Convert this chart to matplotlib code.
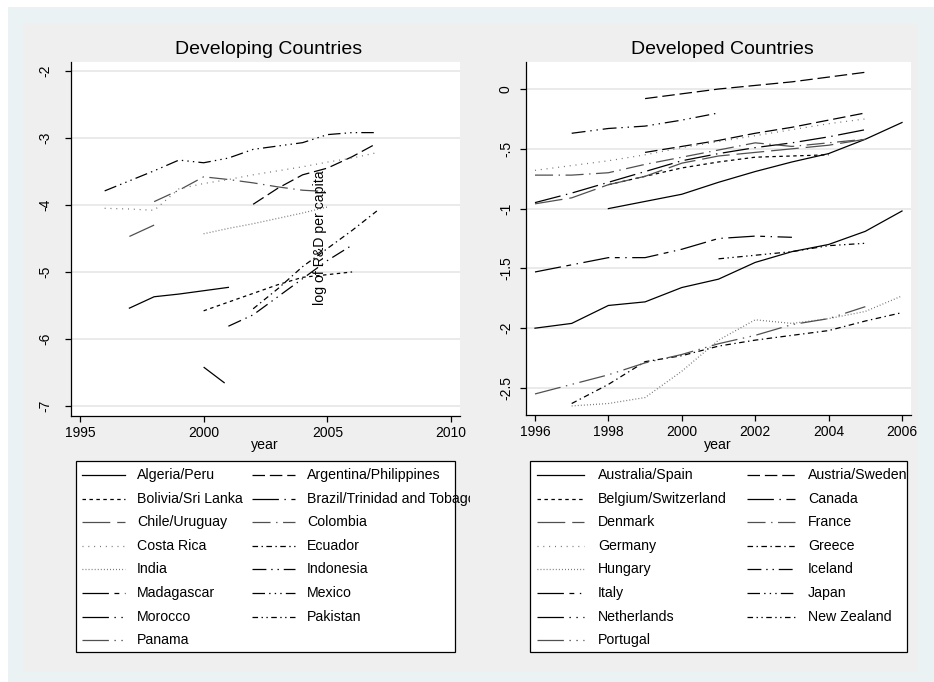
import numpy as np
import matplotlib
matplotlib.use('Agg')
import matplotlib.pyplot as plt
from matplotlib.patches import Rectangle

plt.rcParams['font.family'] = ['Liberation Sans', 'DejaVu Sans']
plt.rcParams['axes.unicode_minus'] = False
plt.rcParams['lines.scale_dashes'] = False

W, H = 934, 682

# log of R&D per capita, developing countries: (first year, yearly values)
algeria = (1997, [-5.54, -5.37, -5.33, -5.28, -5.23])
argentina = (2002, [-3.99, -3.75, -3.55, -3.45, -3.28, -3.08])
bolivia = (2000, [-5.58, -5.45, -5.32, -5.19, -5.08, -5.04, -5.00])
brazil = (None, [])
chile = (1997, [-4.47, -4.30])
colombia = (1998, [-3.95, -3.78, -3.58, -3.62, -3.67, -3.73, -3.78, -3.80])
costa_rica = (1996, [-4.05, -4.06, -4.08, -3.76, -3.68, -3.62, -3.55, -3.49, -3.43, -3.36, -3.30, -3.22])
ecuador = (2002, [-5.55, -5.25, -4.92, -4.65, -4.38, -4.09])
india = (2000, [-4.43, -4.35, -4.28, -4.20, -4.12, -4.03])
indonesia = (2001, [-5.81, -5.64, -5.37, -5.10, -4.83, -4.60])
madagascar = (2000, [-6.42, -6.70])
mexico = (1996, [-3.79, -3.64, -3.49, -3.33, -3.37, -3.30, -3.17, -3.12, -3.07, -2.95, -2.92, -2.92])
morocco = (None, [])
pakistan = (None, [])
panama = (None, [])

dev_labels = ['Algeria/Peru', 'Argentina/Philippines', 'Bolivia/Sri Lanka',
              'Brazil/Trinidad and Tobago', 'Chile/Uruguay', 'Colombia',
              'Costa Rica', 'Ecuador', 'India', 'Indonesia', 'Madagascar',
              'Mexico', 'Morocco', 'Pakistan', 'Panama']
dev_series = [algeria, argentina, bolivia, brazil, chile, colombia, costa_rica,
              ecuador, india, indonesia, madagascar, mexico, morocco, pakistan, panama]

# developed countries
australia = (1998, [-1.00, -0.94, -0.88, -0.78, -0.69, -0.61, -0.54, -0.42, -0.28])
spain = (1996, [-2.00, -1.96, -1.81, -1.78, -1.66, -1.59, -1.45, -1.36, -1.30, -1.19, -1.02])
sweden = (1999, [-0.08, -0.04, 0.00, 0.03, 0.06, 0.10, 0.14])
austria = (1999, [-0.53, -0.48, -0.43, -0.37, -0.32, -0.26, -0.20])
belgium = (1998, [-0.80, -0.73, -0.66, -0.61, -0.57, -0.56, -0.55])
canada = (1996, [-0.95, -0.87, -0.78, -0.69, -0.60, -0.54, -0.49, -0.45, -0.40, -0.34])
denmark = (1996, [-0.96, -0.91, -0.80, -0.73, -0.62, -0.56, -0.53, -0.50, -0.47, -0.42])
france = (1996, [-0.72, -0.72, -0.70, -0.63, -0.57, -0.51, -0.45, -0.48, -0.45, -0.42])
germany = (1996, [-0.68, -0.64, -0.60, -0.55, -0.49, -0.44, -0.39, -0.34, -0.29, -0.25])
greece = (1997, [-2.63, -2.47, -2.28, -2.23, -2.15, -2.10, -2.06, -2.02, -1.94, -1.87])
hungary = (1997, [-2.65, -2.63, -2.58, -2.36, -2.10, -1.93, -1.96, -1.92, -1.86, -1.73])
iceland = (1997, [-0.37, -0.33, -0.31, -0.26, -0.20])
italy = (1996, [-1.53, -1.47, -1.41, -1.41, -1.34, -1.25, -1.23, -1.24])
japan = (None, [])
netherlands = (None, [])
new_zealand = (2001, [-1.42, -1.39, -1.36, -1.31, -1.29])
portugal = (1996, [-2.55, -2.47, -2.39, -2.29, -2.22, -2.13, -2.06, -1.97, -1.92, -1.82])

dvd_labels = ['Australia/Spain', 'Austria/Sweden', 'Belgium/Switzerland', 'Canada',
              'Denmark', 'France', 'Germany', 'Greece', 'Hungary', 'Iceland',
              'Italy', 'Japan', 'Netherlands', 'New Zealand', 'Portugal']
dvd_series = [[australia, spain], [austria, sweden], [belgium], [canada], [denmark],
              [france], [germany], [greece], [hungary], [iceland], [italy], [japan],
              [netherlands], [new_zealand], [portugal]]

dev_yticks = [-2, -3, -4, -5, -6, -7]
dev_xticks = [1995, 2000, 2005, 2010]
dvd_yticks = [0, -0.5, -1, -1.5, -2, -2.5]
dvd_ylabels = ['0', '-.5', '-1', '-1.5', '-2', '-2.5']
dvd_xticks = [1996, 1998, 2000, 2002, 2004, 2006]

# line patterns (in points), one per plot style
patterns = [
    '-',
    (0, (9, 3.5)),
    (0, (2.5, 2.5)),
    (0, (19, 4, 1, 4)),
    (0, (20, 5)),
    (0, (13, 4, 1, 4)),
    (0, (0.7, 3.5)),
    (0, (4, 2.5, 1, 2.5)),
    (0, (0.6, 1.6)),
    (0, (10, 3.5, 1, 3.5, 1, 3.5)),
    (0, (19, 4, 3.5, 4, 1, 4)),
    (0, (9, 3, 1, 3, 1, 3, 1, 3)),
    (0, (19, 4, 1, 4, 1, 4)),
    (0, (4, 2.5, 1, 2.5, 1, 2.5)),
    (0, (19, 4, 1, 4, 1, 4)),
]
colors = ['black', 'black', 'black', 'black', '#505050', '#505050', '#707070',
          'black', '#606060', 'black', 'black', 'black', 'black', 'black', '#505050']


def fx(x):
    return x / W


def fy(y):
    return 1 - y / H


fig = plt.figure(figsize=(W / 100, H / 100), dpi=100)
fig.patches.append(Rectangle((fx(8), 0), 1 - fx(8), fy(7), transform=fig.transFigure,
                             facecolor='#EAF2F3', edgecolor='none', zorder=-10))
fig.patches.append(Rectangle((fx(23), fy(672)), fx(918) - fx(23), fy(23) - fy(672),
                             transform=fig.transFigure, facecolor='#EFEFEF',
                             edgecolor='none', zorder=-9))


def setup_axes(ax, xlim, ylim, xticks, yticks, ylabels, ypad):
    ax.set_xlim(*xlim)
    ax.set_ylim(*ylim)
    for s in ['top', 'right']:
        ax.spines[s].set_visible(False)
    for s in ['left', 'bottom']:
        ax.spines[s].set_linewidth(0.9)
    ax.set_xticks(xticks)
    ax.set_xticklabels([str(t) for t in xticks])
    ax.set_yticks(yticks)
    ax.set_yticklabels(ylabels, rotation=90, va='center')
    ax.tick_params(axis='both', direction='out', length=4, width=0.9, labelsize=10)
    ax.tick_params(axis='y', pad=ypad)
    ax.tick_params(axis='x', pad=3)
    for t in yticks:
        ax.axhline(t, color='#E6E6E6', lw=1.2, zorder=0)


def draw(ax, start, vals, k):
    if start is None or len(vals) == 0:
        return
    years = np.arange(start, start + len(vals))
    ax.plot(years, vals, color=colors[k], lw=0.9, linestyle=patterns[k])


# developing countries
ax0 = fig.add_axes([fx(71), fy(416), fx(460) - fx(71), fy(62) - fy(416)])
setup_axes(ax0, (1994.64, 2010.36), (-7.15, -1.866), dev_xticks, dev_yticks,
           [str(t) for t in dev_yticks], 9.4)
for k, (start, vals) in enumerate(dev_series):
    draw(ax0, start, vals, k)

# developed countries
ax1 = fig.add_axes([fx(526), fy(415), fx(911) - fx(526), fy(62) - fy(415)])
setup_axes(ax1, (1995.755, 2006.245), (-2.726, 0.226), dvd_xticks, dvd_yticks,
           dvd_ylabels, 5.4)
for k, group in enumerate(dvd_series):
    for start, vals in group:
        draw(ax1, start, vals, k)

fig.text(fx(269), fy(49), 'Developing Countries', fontsize=14, ha='center', va='center')
fig.text(fx(722), fy(49), 'Developed Countries', fontsize=14, ha='center', va='center')
fig.text(fx(265), fy(445), 'year', fontsize=10.2, ha='center', va='center')
fig.text(fx(718), fy(445), 'year', fontsize=10.2, ha='center', va='center')
fig.text(fx(320), fy(238), 'log of R&D per capita', fontsize=10.2, rotation=90,
         ha='center', va='center')


def legend_box(x0, x1, clip_x, labels, cols):
    lax = fig.add_axes([fx(x0), fy(655), fx(clip_x) - fx(x0), fy(458) - fy(655)])
    lax.set_xlim(x0, clip_x)
    lax.set_ylim(655, 458)
    lax.axis('off')
    lax.add_patch(Rectangle((x0, 461), x1 - x0, 191, facecolor='white',
                            edgecolor='black', lw=0.9, clip_on=False))
    for i, lab in enumerate(labels):
        row, col = i // 2, i % 2
        lx0, lx1, tx = cols[col]
        y = 475 + row * 23.6
        lax.plot([lx0, lx1], [y, y], color=colors[i], lw=0.9, linestyle=patterns[i])
        lax.text(tx, y, lab, fontsize=10.2, va='center', ha='left', clip_on=True)


legend_box(76, 455, 470, dev_labels, [(82, 125, 137), (252, 295, 307)])
legend_box(530, 907, 918, dvd_labels, [(537, 584, 598), (747, 795, 808)])

plt.savefig('out.png', dpi=100)
